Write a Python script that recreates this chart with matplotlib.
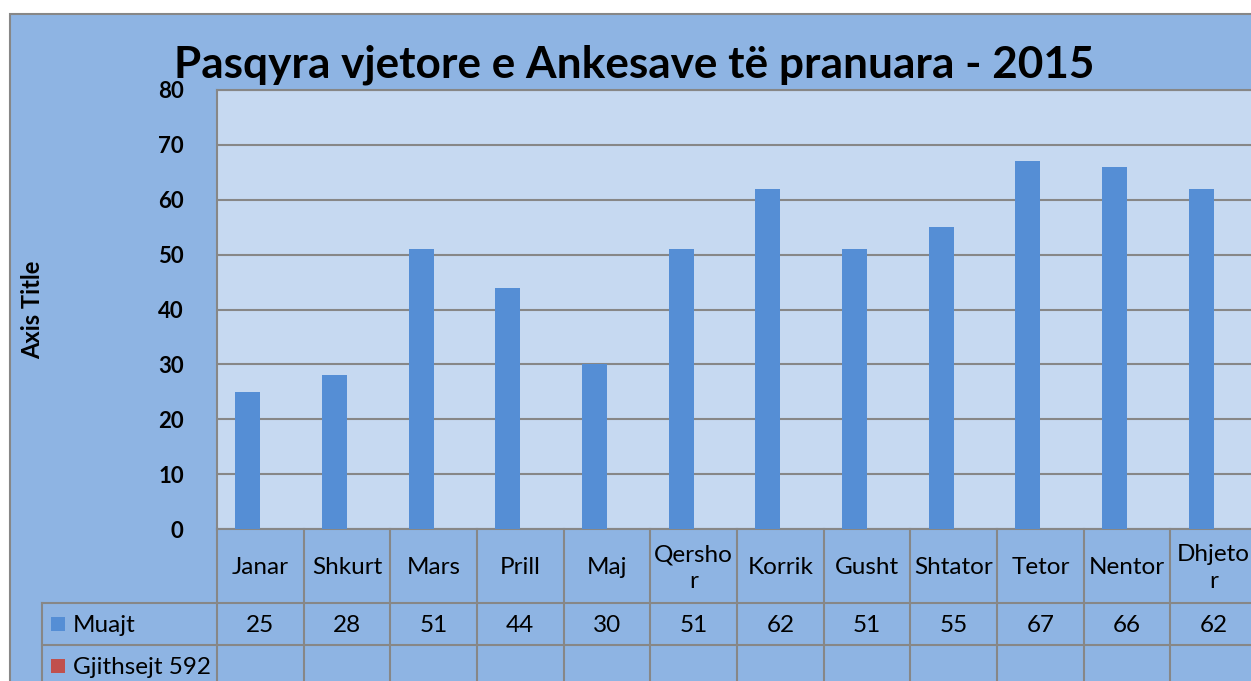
import matplotlib.pyplot as plt
from matplotlib.patches import Rectangle
from matplotlib.transforms import blended_transform_factory

plt.rcParams['font.family'] = ['Lato', 'DejaVu Sans']

# data
months = ["Janar", "Shkurt", "Mars", "Prill", "Maj", "Qershor",
          "Korrik", "Gusht", "Shtator", "Tetor", "Nentor", "Dhjetor"]
month_labels = ["Janar", "Shkurt", "Mars", "Prill", "Maj", "Qersho\nr",
                "Korrik", "Gusht", "Shtator", "Tetor", "Nentor", "Dhjeto\nr"]
muajt = [25, 28, 51, 44, 30, 51, 62, 51, 55, 67, 66, 62]
gjithsejt = [0] * 12  # empty series, only shown in the table legend
series_names = ["Muajt", "Gjithsejt 592"]
yticks = [0, 10, 20, 30, 40, 50, 60, 70, 80]

W, H = 1251, 681
outer_bg = "#8EB4E3"
plot_bg = "#C6D9F1"
bar_col = "#558ED5"
red_col = "#C0504D"
line_col = "#878787"

fig = plt.figure(figsize=(W / 100, H / 100), dpi=100)
fig.patch.set_facecolor("white")

# outer chart area
fig.patches.append(Rectangle((10 / W, -0.1), 1.2, 1.1 - 14 / H, transform=fig.transFigure,
                             facecolor=outer_bg, edgecolor=line_col, linewidth=1.5, zorder=-10))

left, right, top, bottom = 217, 1257, 90, 529
ax = fig.add_axes([left / W, 1 - bottom / H, (right - left) / W, (bottom - top) / H])
ax.set_facecolor(plot_bg)

# grouped bars, second series is empty
bw = 0.29
x = list(range(len(months)))
ax.bar([i - bw / 2 for i in x], muajt, width=bw, color=bar_col, zorder=3)
ax.bar([i + bw / 2 for i in x], gjithsejt, width=bw, color=red_col, zorder=3)
ax.set_xlim(-0.5, len(months) - 0.5)
ax.set_ylim(0, 80)
ax.set_yticks(yticks)
ax.set_yticklabels([str(t) for t in yticks], fontsize=16, fontweight="bold")
ax.tick_params(axis="y", length=0, pad=24)
ax.set_xticks([])
ax.grid(axis="y", color=line_col, linewidth=1.5, zorder=1)
for s in ax.spines.values():
    s.set_color(line_col)
    s.set_linewidth(1.5)
ax.spines["right"].set_visible(False)

ax.set_ylabel("Axis Title", fontsize=17, fontweight="bold", labelpad=0)
ax.yaxis.set_label_coords((44 - left) / (right - left), 0.5)

fig.text(634 / W, 1 - 65 / H, "Pasqyra vjetore e Ankesave të pranuara - 2015",
         ha="center", va="center", fontsize=31.8, fontweight="bold")

# data table below the plot
trans = blended_transform_factory(ax.transData, ax.transAxes)
ph = bottom - top
y_head = -(603 - bottom) / ph
y_row1 = -(645 - bottom) / ph
y_end = -(700 - bottom) / ph
x_tab = (42 - left) / ((right - left) / 12) - 0.5
nudge = 2 / ph
lk = dict(color=line_col, linewidth=1.5, transform=trans, clip_on=False, zorder=5)

for k in range(len(months) + 1):
    ax.plot([k - 0.5, k - 0.5], [0, y_end], **lk)
ax.plot([x_tab, x_tab], [y_head, y_end], **lk)
ax.plot([x_tab, len(months)], [y_head, y_head], **lk)
ax.plot([x_tab, len(months)], [y_row1, y_row1], **lk)

for i, lab in enumerate(month_labels):
    ax.text(i, y_head / 2 - nudge, lab, ha="center", va="center", fontsize=17.5,
            transform=trans, clip_on=False, linespacing=1.3)
    ax.text(i, (y_head + y_row1) / 2 - nudge, str(muajt[i]), ha="center", va="center",
            fontsize=17.5, transform=trans, clip_on=False)

px = (right - left) / 12
ky = [(y_head + y_row1) / 2, y_row1 - (y_head - y_row1) / 2]
for name, col, yy in zip(series_names, [bar_col, red_col], ky):
    fig.patches.append(Rectangle((51 / W, 0), 14 / W, 14 / H, transform=fig.transFigure,
                                 facecolor=col, edgecolor="none", zorder=6))
    fig.patches[-1].set_y(ax.transAxes.transform((0, yy))[1] / H - 7 / H)
    ax.text(x_tab + (73 - 42) / px, yy - nudge, name, ha="left", va="center", fontsize=17.5,
            transform=trans, clip_on=False)

fig.savefig("out.png", dpi=100)
